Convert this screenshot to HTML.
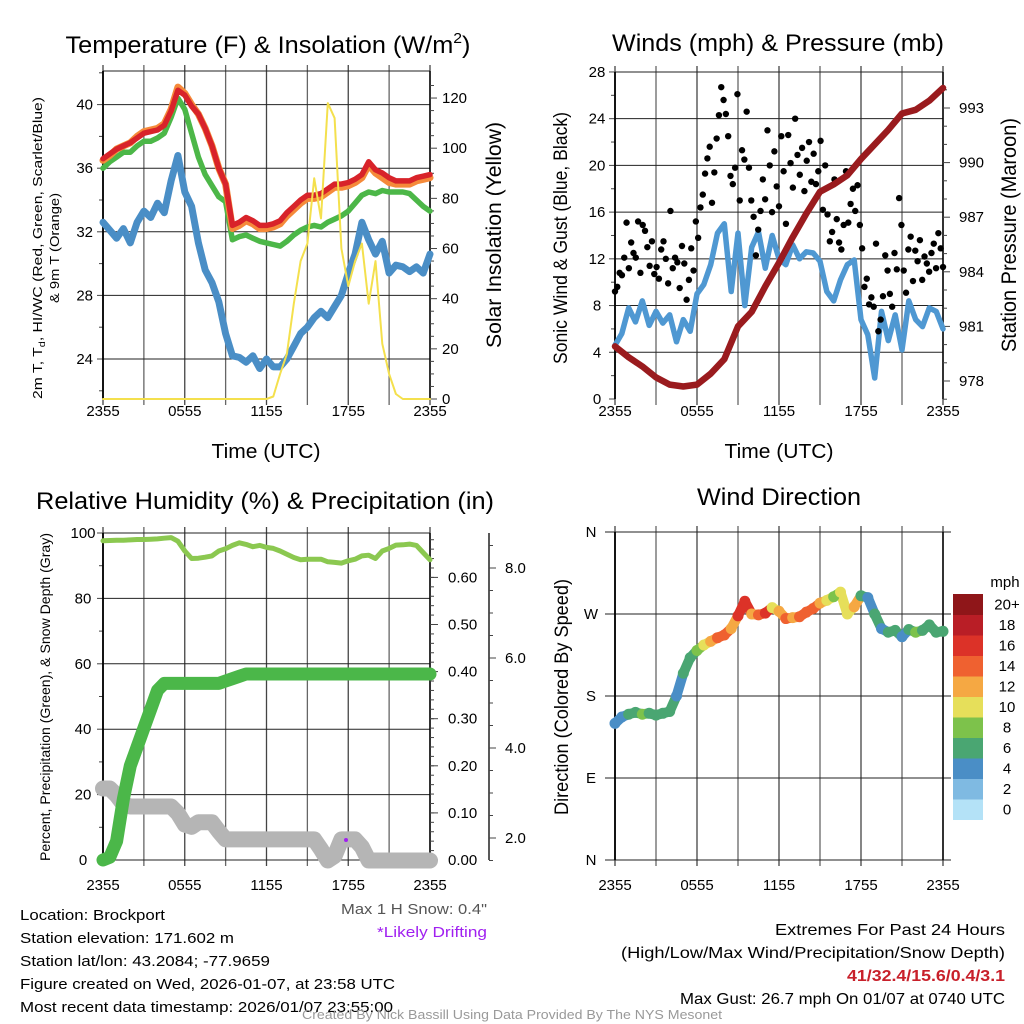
<!DOCTYPE html>
<html><head><meta charset="utf-8"><style>
html,body{margin:0;padding:0;background:#fff;}
svg{display:block;font-family:"Liberation Sans",Arial,sans-serif;}
</style></head><body>
<svg id="c" width="1024" height="1024" viewBox="0 0 1024 1024" xmlns="http://www.w3.org/2000/svg">
<rect width="1024" height="1024" fill="#fff"/>
<text x="268" y="53" font-size="24" text-anchor="middle" textLength="405" lengthAdjust="spacingAndGlyphs">Temperature (F) &amp; Insolation (W/m<tspan font-size="15" dy="-10">2</tspan><tspan dy="10">)</tspan></text>
<text x="778" y="51" font-size="24" text-anchor="middle" textLength="332" lengthAdjust="spacingAndGlyphs">Winds (mph) &amp; Pressure (mb)</text>
<text x="265" y="509" font-size="24" text-anchor="middle" textLength="458" lengthAdjust="spacingAndGlyphs">Relative Humidity (%) &amp; Precipitation (in)</text>
<text x="779" y="505" font-size="24" text-anchor="middle" textLength="164" lengthAdjust="spacingAndGlyphs">Wind Direction</text>
<text x="266" y="458" font-size="20" text-anchor="middle" textLength="109" lengthAdjust="spacingAndGlyphs">Time (UTC)</text>
<text x="779" y="458" font-size="20" text-anchor="middle" textLength="109" lengthAdjust="spacingAndGlyphs">Time (UTC)</text>
<text transform="translate(42,248) rotate(-90)" font-size="13" text-anchor="middle" textLength="302" lengthAdjust="spacingAndGlyphs">2m T, T<tspan font-size="9" dy="3">d</tspan><tspan dy="-3">, HI/WC (Red, Green, Scarlet/Blue)</tspan></text>
<text transform="translate(59,248) rotate(-90)" font-size="13" text-anchor="middle" textLength="110" lengthAdjust="spacingAndGlyphs">&amp; 9m T (Orange)</text>
<text transform="translate(501,235) rotate(-90)" font-size="21" text-anchor="middle" textLength="226" lengthAdjust="spacingAndGlyphs">Solar Insolation (Yellow)</text>
<text transform="translate(567,238) rotate(-90)" font-size="19" text-anchor="middle" textLength="252" lengthAdjust="spacingAndGlyphs">Sonic Wind &amp; Gust (Blue, Black)</text>
<text transform="translate(1016,235) rotate(-90)" font-size="21" text-anchor="middle" textLength="234" lengthAdjust="spacingAndGlyphs">Station Pressure (Maroon)</text>
<text transform="translate(50,697) rotate(-90)" font-size="14" text-anchor="middle" textLength="328" lengthAdjust="spacingAndGlyphs">Percent, Precipitation (Green), &amp; Snow Depth (Gray)</text>
<text transform="translate(568,697) rotate(-90)" font-size="19" text-anchor="middle" textLength="236" lengthAdjust="spacingAndGlyphs">Direction (Colored By Speed)</text>
<text x="487" y="914" font-size="15" fill="#555" text-anchor="end" textLength="146" lengthAdjust="spacingAndGlyphs">Max 1 H Snow: 0.4"</text>
<text x="487" y="937" font-size="15" fill="#a020f0" text-anchor="end" textLength="110" lengthAdjust="spacingAndGlyphs">*Likely Drifting</text>
<text x="20" y="920" font-size="15" textLength="145" lengthAdjust="spacingAndGlyphs">Location: Brockport</text>
<text x="20" y="943" font-size="15" textLength="214" lengthAdjust="spacingAndGlyphs">Station elevation: 171.602 m</text>
<text x="20" y="966" font-size="15" textLength="250" lengthAdjust="spacingAndGlyphs">Station lat/lon: 43.2084; -77.9659</text>
<text x="20" y="989" font-size="15" textLength="375" lengthAdjust="spacingAndGlyphs">Figure created on Wed, 2026-01-07, at 23:58 UTC</text>
<text x="20" y="1012" font-size="15" textLength="373" lengthAdjust="spacingAndGlyphs">Most recent data timestamp: 2026/01/07 23:55:00</text>
<text x="1005" y="935" font-size="16" text-anchor="end" textLength="230" lengthAdjust="spacingAndGlyphs">Extremes For Past 24 Hours</text>
<text x="1005" y="958" font-size="16" text-anchor="end" textLength="384" lengthAdjust="spacingAndGlyphs">(High/Low/Max Wind/Precipitation/Snow Depth)</text>
<text x="1005" y="981" font-size="16" font-weight="bold" fill="#c8202a" text-anchor="end" textLength="158" lengthAdjust="spacingAndGlyphs">41/32.4/15.6/0.4/3.1</text>
<text x="1005" y="1004" font-size="16" text-anchor="end" textLength="325" lengthAdjust="spacingAndGlyphs">Max Gust: 26.7 mph On 01/07 at 0740 UTC</text>
<text x="512" y="1019" font-size="13" fill="#999" text-anchor="middle" textLength="420" lengthAdjust="spacingAndGlyphs">Created By Nick Bassill Using Data Provided By The NYS Mesonet</text>
</svg>
<script>
// ---------- DATA ----------
const timeLabels = ["2355","0555","1155","1755","2355"];
const tempRed = [36.6,36.9,37.2,37.4,37.6,37.9,38.2,38.3,38.4,38.7,39.6,40.9,40.6,39.9,39.4,38.5,37.4,36.0,35.0,32.4,32.6,32.9,32.7,32.4,32.4,32.5,32.7,33.2,33.6,34.0,34.3,34.3,34.4,34.7,35.0,35.0,35.1,35.3,35.6,36.4,35.9,35.7,35.4,35.2,35.2,35.2,35.4,35.5,35.6];
const temp9m = [36.5,36.8,37.2,37.4,37.6,38.0,38.3,38.4,38.5,38.8,39.7,41.1,40.7,40.0,39.4,38.5,37.4,36.0,35.0,32.2,32.4,32.7,32.5,32.2,32.2,32.3,32.5,33.0,33.4,33.8,34.1,34.1,34.2,34.5,34.8,34.8,34.9,35.1,35.4,36.2,35.7,35.4,35.1,35.0,35.0,35.0,35.2,35.3,35.4];
const dewGreen = [36.0,36.4,36.7,37.0,37.0,37.4,37.7,37.7,37.9,38.2,39.2,40.4,39.7,38.2,36.7,35.6,34.9,34.2,33.9,31.5,31.7,31.8,31.6,31.4,31.3,31.2,31.1,31.4,31.8,32.1,32.3,32.4,32.3,32.6,32.8,33.0,33.3,33.8,34.3,34.5,34.4,34.6,34.5,34.5,34.5,34.4,34.0,33.6,33.3];
const windChill = [32.6,32.1,31.6,32.2,31.3,32.6,33.3,32.9,33.8,33.2,35.2,36.8,34.5,33.6,31.3,29.6,28.8,27.6,25.6,24.2,24.1,23.8,24.2,23.4,24.0,23.5,23.5,24.0,24.8,25.6,26.0,26.6,27.0,26.6,27.3,28.0,29.4,30.6,32.6,31.5,30.6,31.4,29.4,29.9,29.8,29.5,29.8,29.4,30.6];
const insolation = [0,0,0,0,0,0,0,0,0,0,0,0,0,0,0,0,0,0,0,0,0,0,0,0,0,1,10,18,38,55,62,88,72,118,112,60,45,55,62,38,55,22,10,2,0,0,0,0,0];
const tempTicks = [24,28,32,36,40];
const insolTicks = [0,20,40,60,80,100,120];
const sonicWind = [4.6,5.6,7.8,6.6,8.4,6.3,7.5,6.5,7.2,4.9,6.8,5.8,9.0,9.8,11.5,14.2,15.0,9.2,14.2,8.0,13.0,14.3,11.2,14.0,12.0,11.5,13.2,12.0,12.6,12.5,11.8,9.2,8.4,10.2,11.5,11.9,6.8,5.5,1.8,7.5,5.0,7.2,4.2,8.4,6.8,6.2,7.8,7.5,6.0];
const gusts = [9.2,9.6,10.8,10.6,12.1,15.1,11.2,13.4,12.5,12.1,15.2,10.8,
14.9,14.4,13.0,11.4,13.5,10.7,11.3,10.3,12.8,13.5,12.0,9.9,
16.1,11.2,12.1,11.7,9.5,13.1,11.6,8.5,10.2,12.9,11.0,15.2,
13.8,16.4,17.5,19.3,20.6,21.6,16.8,19.4,22.3,24.3,26.7,25.6,
24.4,22.5,19.1,18.4,19.8,26.1,17.0,21.3,20.5,24.6,19.8,17.0,
15.6,12.3,14.5,16.1,18.8,17.1,23.0,20.0,16.0,21.2,18.2,16.5,
22.5,19.5,15.0,22.6,20.2,18.1,24.0,20.9,19.2,21.5,17.8,20.4,
22.0,18.6,21.0,18.4,19.5,22.1,16.2,20.0,15.8,13.5,14.3,18.8,
15.4,13.4,12.8,14.9,19.5,15.1,16.7,18.0,16.1,18.3,14.9,12.9,
9.6,10.3,8.1,8.7,7.9,13.3,5.8,6.8,8.8,12.3,11.0,9.0,
7.9,12.5,11.1,17.2,14.9,11.0,9.1,12.8,13.9,10.1,12.7,11.8,
13.6,10.2,12.2,11.6,10.9,12.5,13.3,11.2,14.2,12.9,11.3];
const pressure = [979.9,979.3,978.8,978.2,977.8,977.7,977.8,978.4,979.2,981.0,981.8,983.2,984.5,985.9,987.2,988.4,988.8,989.3,990.2,991.0,991.8,992.7,992.9,993.4,994.1];
const windTicks = [0,4,8,12,16,20,24,28];
const pressTicks = [978,981,984,987,990,993];
const humidity = [97.6,97.7,97.8,97.8,97.9,98.0,98.0,98.1,98.2,98.4,98.6,97.5,94.5,92.2,92.3,92.6,93.0,94.5,95.2,96.2,97.0,96.5,95.8,96.2,95.6,95.3,94.5,93.5,92.5,91.8,92.0,92.0,92.0,91.2,91.0,90.8,91.5,92.0,93.0,93.2,92.2,94.5,95.3,96.3,96.4,96.6,96.2,94.0,91.8];
const precip = [0.0,0.006,0.04,0.13,0.2,0.24,0.28,0.32,0.36,0.375,0.375,0.375,0.375,0.375,0.375,0.375,0.375,0.375,0.38,0.385,0.39,0.395,0.395,0.395,0.395,0.395,0.395,0.395,0.395,0.395,0.395,0.395,0.395,0.395,0.395,0.395,0.395,0.395,0.395,0.395,0.395,0.395,0.395,0.395,0.395,0.395,0.395,0.395,0.395];
const snowDepth = [3.1,3.1,2.95,2.75,2.7,2.7,2.7,2.7,2.7,2.7,2.7,2.55,2.3,2.25,2.35,2.35,2.35,2.15,1.97,1.97,1.97,1.97,1.97,1.97,1.97,1.97,1.97,1.97,1.97,1.97,1.97,1.97,1.75,1.5,1.6,1.97,1.97,1.97,1.8,1.5,1.5,1.5,1.5,1.5,1.5,1.5,1.5,1.5,1.5];
const rhTicks = [0,20,40,60,80,100];
const precipTicks = ["0.00","0.10","0.20","0.30","0.40","0.50","0.60"];
const snowTicks = ["2.0","4.0","6.0","8.0"];
const windDir = [150,157,160,162,160,161,159,161,163,180,205,222,230,236,240,244,247,254,268,284,270,269,271,277,273,265,266,267,272,276,282,285,289,294,270,278,290,288,270,254,250,252,245,253,250,252,258,250,251];
const dirSpeed = [4,5,6,7,8,7,6,7,6,4,6,7,9,11,12,14,15,13,17,16,13,15,16,11,12,15,13,14,14,15,12,10,9,10,11,12,6,4,7,4,7,6,5,7,8,7,7,6,7];
const dirTicks = ["N","E","S","W","N"];
const speedBins = ["0","2","4","6","8","10","12","14","16","18","20+"];
const binColors = ["#b4e2f7","#7fbae2","#4a8ec6","#4aa672","#7dc24b","#e6df5a","#f5a843","#ef6130","#dc3228","#b91e26","#8f1619"];

// ---------- HELPERS ----------
const NS = "http://www.w3.org/2000/svg";
const svg = document.getElementById("c");
function mk(tag, attrs, name, parent) {
  const el = document.createElementNS(NS, tag);
  for (const k in attrs) el.setAttribute(k, attrs[k]);
  
  
  (parent || svg).appendChild(el);
  return el;
}
function txt(x, y, s, name, opt) {
  const el = mk("text", Object.assign({x: x, y: y, "font-size": 15}, opt || {}), name);
  el.textContent = s;
  return el;
}
function tx(x0, x1) { return t => x0 + t * (x1 - x0) / 24; }
function poly(xs, ys, stroke, w, name, extra) {
  const pts = xs.map((x, i) => x.toFixed(1) + "," + ys[i].toFixed(1)).join(" ");
  return mk("polyline", Object.assign({points: pts, fill: "none", stroke: stroke, "stroke-width": w, "stroke-linejoin": "round", "stroke-linecap": "round"}, extra || {}), name);
}
function series(arr, X, Y) {
  const step = 24 / (arr.length - 1);
  return {xs: arr.map((v, i) => X(i * step)), ys: arr.map(v => Y(v))};
}
function timeGrid(X, top, bot, labY, prefix) {
  for (let h = 0; h <= 24; h += 3) {
    const x = X(h);
    mk("line", {x1: x, y1: top - 6, x2: x, y2: bot + 6, stroke: (h % 6 === 0 ? "#444" : "#666"), "stroke-width": 1.3}, prefix + "-vgrid");
  }
  timeLabels.forEach((l, i) => txt(X(i * 6), labY, l, prefix + "-x-tick-label", {"text-anchor": "middle"}));
}
function hgrid(x0, x1, y, name) {
  mk("line", {x1: x0, y1: y, x2: x1, y2: y, stroke: "#222", "stroke-width": 1}, name);
}
function tickL(x, y, len, name) { mk("line", {x1: x - len, y1: y, x2: x, y2: y, stroke: "#444", "stroke-width": 1}, name); }
function tickR(x, y, len, name) { mk("line", {x1: x, y1: y, x2: x + len, y2: y, stroke: "#444", "stroke-width": 1}, name); }

// ---------- PANEL 1 ----------
{
  const x0 = 103, x1 = 430, top = 71, bot = 399;
  const X = tx(x0, x1);
  const YL = v => 359 - (v - 24) * 15.9;
  const YR = v => 399 - v * 2.508;
  timeGrid(X, top, bot, 416, "temp");
  tempTicks.forEach(v => { hgrid(x0, x1, YL(v), "temp-hgrid"); tickL(x0, YL(v), 6, "temp-y-tick"); txt(x0 - 10, YL(v) + 5, String(v), "temp-y-tick-label", {"text-anchor": "end"}); });
  for (let v = 22; v <= 42; v += 4) tickL(x0, YL(v), 4, "temp-y-minor-tick");
  hgrid(x0, x1, top, "temp-top-border");
  mk("line", {x1: x0, y1: top, x2: x0, y2: bot, stroke: "#000", "stroke-width": 1.8}, "temp-left-axis");
  mk("line", {x1: x1, y1: top, x2: x1, y2: bot, stroke: "#000", "stroke-width": 1.5}, "insolation-right-axis");
  insolTicks.forEach(v => { tickR(x1, YR(v), 7, "insolation-y-tick"); txt(x1 + 12, YR(v) + 5, String(v), "insolation-y-tick-label"); });
  for (let v = 5; v <= 125; v += 5) if (v % 20) tickR(x1, YR(v), 4, "insolation-y-minor-tick");
  let s = series(windChill, X, YL); poly(s.xs, s.ys, "#4a8ec6", 7, "windchill-line");
  s = series(dewGreen, X, YL); poly(s.xs, s.ys, "#4cb748", 5.5, "dewpoint-line");
  s = series(temp9m, X, YL); poly(s.xs, s.ys, "#f58a3a", 7, "temp-9m-line");
  s = series(tempRed, X, YL); poly(s.xs, s.ys, "#d8232a", 5.5, "temp-2m-line");
  s = series(insolation, X, YR); poly(s.xs, s.ys, "#f4e04d", 2, "insolation-line");
}

// ---------- PANEL 2 ----------
{
  const x0 = 615, x1 = 943, top = 72, bot = 399;
  const X = tx(x0, x1);
  const YL = v => 399 - v * 11.68;
  const YR = p => 381 - (p - 978) * 18.2;
  timeGrid(X, top, bot, 416, "wind");
  windTicks.forEach(v => { if (v > 0) hgrid(x0, x1, YL(v), "wind-hgrid"); tickL(x0, YL(v), 6, "wind-y-tick"); txt(x0 - 18, YL(v) + 5, String(v), "wind-y-tick-label", {"text-anchor": "middle"}); });
  for (let v = 2; v <= 26; v += 4) tickL(x0, YL(v), 4, "wind-y-minor-tick");
  mk("line", {x1: x0, y1: top, x2: x0, y2: bot, stroke: "#000", "stroke-width": 1.8}, "wind-left-axis");
  mk("line", {x1: x1, y1: top, x2: x1, y2: bot, stroke: "#000", "stroke-width": 1.5}, "pressure-right-axis");
  pressTicks.forEach(v => { tickR(x1, YR(v), 7, "pressure-y-tick"); txt(x1 + 16, YR(v) + 5, String(v), "pressure-y-tick-label"); });
  for (let v = 977; v <= 994; v++) if ((v - 978) % 3) tickR(x1, YR(v), 4, "pressure-y-minor-tick");
  let s = series(sonicWind, X, YL); poly(s.xs, s.ys, "#4f98d2", 5.5, "sonic-wind-line");
  const step = 24 / (gusts.length - 1);
  gusts.forEach((g, i) => {
    mk("circle", {cx: X(i * step), cy: YL(g), r: 3.2, fill: "#000"}, "gust-dot");
  });
  s = series(pressure, X, YR); poly(s.xs, s.ys, "#9a1b1e", 6.5, "pressure-line");
}

// ---------- PANEL 3 ----------
{
  const x0 = 103, x1 = 430, top = 533, bot = 860;
  const X = tx(x0, x1);
  const YL = v => 860 - v * 3.27;
  const YP = p => 860 - p * 471;
  const YS = v => 928 - v * 45;
  timeGrid(X, top, bot, 890, "rh");
  rhTicks.forEach(v => { hgrid(x0, x1, YL(v), "rh-hgrid"); tickL(x0, YL(v), 6, "rh-y-tick"); txt(x0 - 20, YL(v) + 5, String(v), "rh-y-tick-label", {"text-anchor": "middle"}); });
  for (let v = 10; v <= 90; v += 20) tickL(x0, YL(v), 4, "rh-y-minor-tick");
  mk("line", {x1: x0, y1: top, x2: x0, y2: bot, stroke: "#000", "stroke-width": 1.8}, "rh-left-axis");
  mk("line", {x1: x1, y1: top, x2: x1, y2: bot, stroke: "#000", "stroke-width": 1.5}, "precip-right-axis");
  precipTicks.forEach(v => { tickR(x1, YP(+v), 8, "precip-y-tick"); txt(x1 + 18, YP(+v) + 5, v, "precip-y-tick-label"); });
  for (let v = 0.02; v < 0.7; v += 0.02) tickR(x1, YP(v), 4, "precip-y-minor-tick");
  mk("line", {x1: 489, y1: top, x2: 489, y2: bot, stroke: "#222", "stroke-width": 1.5}, "snow-axis");
  snowTicks.forEach(v => { tickR(489, YS(+v), 7, "snow-y-tick"); txt(505, YS(+v) + 5, v, "snow-y-tick-label"); });
  for (let v = 1.5; v <= 8.6; v += 0.5) if (v % 2) tickR(489, YS(v), 4, "snow-y-minor-tick");
  let s = series(snowDepth, X, YS); poly(s.xs, s.ys, "#b5b5b5", 16, "snow-depth-line");
  mk("circle", {cx: 346, cy: 840, r: 2, fill: "#a020f0"}, "drifting-marker");
  s = series(precip, X, YP); poly(s.xs, s.ys, "#4bb749", 13, "precip-line");
  s = series(humidity, X, YL); poly(s.xs, s.ys, "#8bc850", 5, "humidity-line");
}

// ---------- PANEL 4 ----------
{
  const x0 = 615, x1 = 943, top = 532, bot = 860;
  const X = tx(x0, x1);
  const YD = d => 860 - d * 328 / 360;
  timeGrid(X, top, bot, 890, "wdir");
  dirTicks.forEach((l, i) => { const y = YD(i * 90); hgrid(x0 - 10, x1 + 8, y, "wdir-hgrid"); txt(x0 - 24, y + 5, l, "wdir-y-tick-label", {"text-anchor": "middle"}); });
  mk("line", {x1: x0, y1: top, x2: x0, y2: bot, stroke: "#000", "stroke-width": 1.8}, "wdir-left-axis");
  mk("line", {x1: x1, y1: top, x2: x1, y2: bot, stroke: "#000", "stroke-width": 1.5}, "wdir-right-axis");
  const step = 24 / (windDir.length - 1);
  const col = i => binColors[Math.min(10, Math.floor(dirSpeed[i] / 2))];
  for (let i = 0; i < windDir.length - 1; i++) {
    mk("line", {x1: X(i * step), y1: YD(windDir[i]), x2: X((i + 1) * step), y2: YD(windDir[i + 1]), stroke: col(i), "stroke-width": 10, "stroke-linecap": "round"}, "wdir-trace");
  }
  windDir.forEach((d, i) => {
    mk("circle", {cx: X(i * step), cy: YD(d), r: 5.5, fill: col(i)}, "wdir-dot");
  });
  txt(1005, 587, "mph", "colorbar-title", {"text-anchor": "middle"});
  const bh = 20.5, cbTop = 594;
  speedBins.forEach((l, i) => {
    const y = cbTop + (speedBins.length - 1 - i) * bh;
    mk("rect", {x: 953, y: y, width: 30, height: bh + 0.5, fill: binColors[i]}, "colorbar-bin");
    txt(1007, y + bh / 2 + 5, l, "colorbar-label", {"text-anchor": "middle"});
  });
}
</script>
</body></html>
